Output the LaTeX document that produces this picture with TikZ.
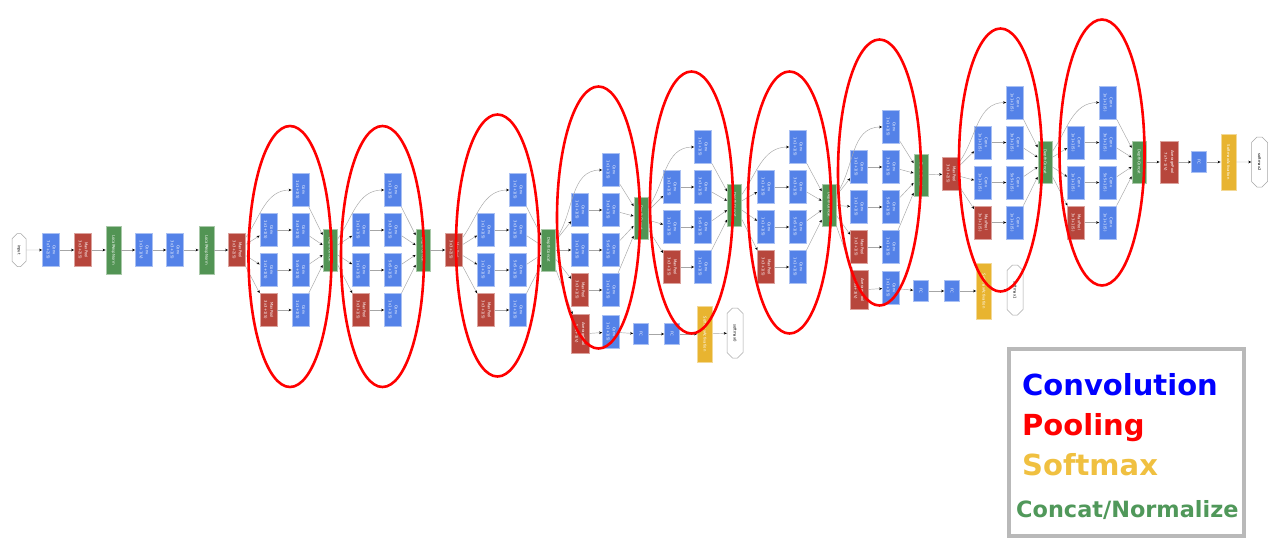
\documentclass[tikz,border=0pt]{standalone}
\usepackage{fontspec}
\setmainfont{DejaVu Sans}
\usepackage{graphicx}
\usetikzlibrary{arrows.meta,shapes.misc}
\definecolor{cblue}{RGB}{84,130,232}
\definecolor{pred}{RGB}{183,70,60}
\definecolor{cgreen}{RGB}{82,148,84}
\definecolor{syellow}{RGB}{232,180,48}
\definecolor{lgblue}{RGB}{0,0,255}
\definecolor{lgred}{RGB}{255,0,0}
\definecolor{lgyellow}{RGB}{240,192,64}
\definecolor{lggreen}{RGB}{80,152,90}
\newcommand\lb[2]{\rotatebox{-90}{\shortstack{#1\\#2}}}
\newcommand\lbo[1]{\rotatebox{-90}{#1}}
\tikzset{
  bx/.style={rectangle, inner sep=0pt, minimum width=17pt, minimum height=33pt,
    text=white, font=\fontsize{3.8}{4.3}\selectfont, line width=0.8pt},
  cv/.style={bx, fill=cblue, draw=cblue!50!white},
  pl/.style={bx, fill=pred, draw=pred!50!white},
  ap/.style={pl, minimum width=18pt, minimum height=39pt},
  ct/.style={bx, fill=cgreen, draw=cgreen!50!white, minimum width=14pt, minimum height=42pt},
  lrn/.style={bx, fill=cgreen, draw=cgreen!50!white, minimum width=15pt, minimum height=48pt},
  fc/.style={cv, minimum width=15pt, minimum height=21pt},
  sm/.style={bx, fill=syellow, draw=syellow!50!white, minimum width=15pt, minimum height=56pt},
  oct/.style={chamfered rectangle, chamfered rectangle xsep=4pt, chamfered rectangle ysep=5pt,
    draw=gray!70, fill=white, text=black, inner sep=0pt, minimum width=16pt,
    font=\fontsize{3.8}{4.3}\selectfont, line width=0.5pt},
  ar/.style={draw=gray!70, line width=0.45pt, -{Stealth[length=3pt,width=2.6pt,color=black]}},
  ring/.style={draw=red, line width=2.6pt},
  lg/.style={anchor=base west, inner sep=0pt, font=\bfseries\fontsize{29}{29}\selectfont}
}
% #1 prefix, #2 input node, #3 x col1, #4 x col2, #5 x concat, #6 top row y, #7 concat y
\newcommand\incep[7]{%
  \node[cv] (#1b1) at (#4,-#6) {\lb{Conv}{1x1+1(S)}};
  \node[cv] (#1a2) at (#3,-#6-40) {\lb{Conv}{1x1+1(S)}};
  \node[cv] (#1a3) at (#3,-#6-80) {\lb{Conv}{1x1+1(S)}};
  \node[pl] (#1a4) at (#3,-#6-120) {\lb{MaxPool}{3x3+1(S)}};
  \node[cv] (#1b2) at (#4,-#6-40) {\lb{Conv}{3x3+1(S)}};
  \node[cv] (#1b3) at (#4,-#6-80) {\lb{Conv}{5x5+1(S)}};
  \node[cv] (#1b4) at (#4,-#6-120) {\lb{Conv}{1x1+1(S)}};
  \node[ct] (#1c) at (#5,-#7) {\lbo{DepthConcat}};
  \draw[ar] (#2) -- (#1a2);
  \draw[ar] (#2) -- (#1a3);
  \draw[ar] (#2) -- (#1a4);
  \draw[ar] (#2) to[out=55,in=180] (#1b1);
  \draw[ar] (#1a2) -- (#1b2);
  \draw[ar] (#1a3) -- (#1b3);
  \draw[ar] (#1a4) -- (#1b4);
  \draw[ar] (#1b1) -- (#1c);
  \draw[ar] (#1b2) -- (#1c);
  \draw[ar] (#1b3) -- (#1c);
  \draw[ar] (#1b4) -- (#1c);
}
\begin{document}
\begin{tikzpicture}[x=1pt,y=1pt]
\fill[white] (0,0) rectangle (1280,-552);
\useasboundingbox (0,0) rectangle (1280,-552);
% stem
\node[oct, minimum height=33pt, minimum width=14pt, chamfered rectangle xsep=3.5pt, chamfered rectangle ysep=6pt] (in) at (19,-250) {\lbo{input}};
\node[cv] (c1) at (51,-250) {\lb{Conv}{7x7+2(S)}};
\node[pl] (p1) at (83,-250) {\lb{MaxPool}{3x3+2(S)}};
\node[lrn] (n1) at (113.5,-250) {\lbo{LocalRespNorm}};
\node[cv] (c2) at (144,-250) {\lb{Conv}{1x1+1(V)}};
\node[cv] (c3) at (175,-250) {\lb{Conv}{3x3+1(S)}};
\node[lrn] (n2) at (206.5,-250) {\lbo{LocalRespNorm}};
\node[pl] (p2) at (237,-250) {\lb{MaxPool}{3x3+2(S)}};
\draw[ar] (in) -- (c1);
\draw[ar] (c1) -- (p1);
\draw[ar] (p1) -- (n1);
\draw[ar] (n1) -- (c2);
\draw[ar] (c2) -- (c3);
\draw[ar] (c3) -- (n2);
\draw[ar] (n2) -- (p2);
% inceptions
\incep{ia}{p2}{268.5}{300.5}{330}{190}{250}
\incep{ib}{iac}{361}{393}{423}{190}{250}
\node[pl] (p3) at (454,-250) {\lb{MaxPool}{3x3+2(S)}};
\draw[ar] (ibc) -- (p3);
\incep{ic}{p3}{486}{518}{548.5}{190}{250}
\incep{id}{icc}{580}{611}{641}{170}{218}
\incep{ie}{idc}{672}{703}{734.5}{147}{205}
\incep{if}{iec}{766}{798}{829}{147}{205}
\incep{ig}{ifc}{859}{891}{921}{127}{175}
\node[pl] (p4) at (951,-174) {\lb{MaxPool}{3x3+2(S)}};
\draw[ar] (igc) -- (p4);
\incep{ih}{p4}{983}{1015}{1045}{102.5}{162}
\incep{ii}{ihc}{1076}{1108}{1139}{102.5}{162}
% auxiliary classifier 0
\node[ap] (x0p) at (580,-334) {\lb{AveragePool}{5x5+3(V)}};
\node[cv] (x0c) at (611,-332) {\lb{Conv}{1x1+1(S)}};
\node[fc] (x0f1) at (641,-334) {\lbo{FC}};
\node[fc] (x0f2) at (672,-334) {\lbo{FC}};
\node[sm] (x0s) at (705,-334) {\lbo{SoftmaxActivation}};
\node[oct, minimum height=50pt] (x0o) at (735,-333) {\lbo{softmax0}};
\draw[ar] (icc) -- (x0p);
\draw[ar] (x0p) -- (x0c);
\draw[ar] (x0c) -- (x0f1);
\draw[ar] (x0f1) -- (x0f2);
\draw[ar] (x0f2) -- (x0s);
\draw[ar] (x0s) -- (x0o);
% auxiliary classifier 1
\node[ap] (x1p) at (859,-290) {\lb{AveragePool}{5x5+3(V)}};
\node[cv] (x1c) at (891,-288) {\lb{Conv}{1x1+1(S)}};
\node[fc] (x1f1) at (921,-291) {\lbo{FC}};
\node[fc] (x1f2) at (952,-291) {\lbo{FC}};
\node[sm] (x1s) at (984,-291) {\lbo{SoftmaxActivation}};
\node[oct, minimum height=50pt] (x1o) at (1015,-290) {\lbo{softmax1}};
\draw[ar] (ifc) -- (x1p);
\draw[ar] (x1p) -- (x1c);
\draw[ar] (x1c) -- (x1f1);
\draw[ar] (x1f1) -- (x1f2);
\draw[ar] (x1f2) -- (x1s);
\draw[ar] (x1s) -- (x1o);
% head
\node[ap, minimum height=42pt] (hp) at (1169,-162) {\lb{AveragePool}{7x7+1(V)}};
\node[fc] (hf) at (1199,-162) {\lbo{FC}};
\node[sm] (hs) at (1228.5,-162) {\lbo{SoftmaxActivation}};
\node[oct, minimum height=50pt] (ho) at (1259.5,-162) {\lbo{softmax2}};
\draw[ar] (iic) -- (hp);
\draw[ar] (hp) -- (hf);
\draw[ar] (hf) -- (hs);
\draw[ar] (hs) -- (ho);
% rings
\draw[ring] (290,-256.5) ellipse [x radius=41.5pt, y radius=130.5pt];
\draw[ring] (382.5,-256.5) ellipse [x radius=41.5pt, y radius=130.5pt];
\draw[ring] (497.5,-245.5) ellipse [x radius=41.5pt, y radius=131pt];
\draw[ring] (598.5,-217.5) ellipse [x radius=41.5pt, y radius=131pt];
\draw[ring] (691.5,-202.5) ellipse [x radius=41.5pt, y radius=131pt];
\draw[ring] (789.5,-202.5) ellipse [x radius=41.5pt, y radius=131pt];
\draw[ring] (879.5,-172.5) ellipse [x radius=41.5pt, y radius=133pt];
\draw[ring] (1000.5,-160) ellipse [x radius=41.5pt, y radius=131.5pt];
\draw[ring] (1102,-152.5) ellipse [x radius=42.5pt, y radius=133pt];
% legend
\draw[draw=gray!55, line width=4pt] (1009,-349) rectangle (1244,-536);
\node[lg, text=lgblue] (lc) at (1022,-395) {Convolution};
\node[lg, text=lgred] (lp) at (1022,-435) {Pooling};
\node[lg, text=lgyellow] (ls) at (1022,-475) {Softmax};
\node[lg, text=lggreen, font=\bfseries\fontsize{22.4}{22.4}\selectfont] (ln) at (1016,-517) {Concat/Normalize};
\end{tikzpicture}
\end{document}
